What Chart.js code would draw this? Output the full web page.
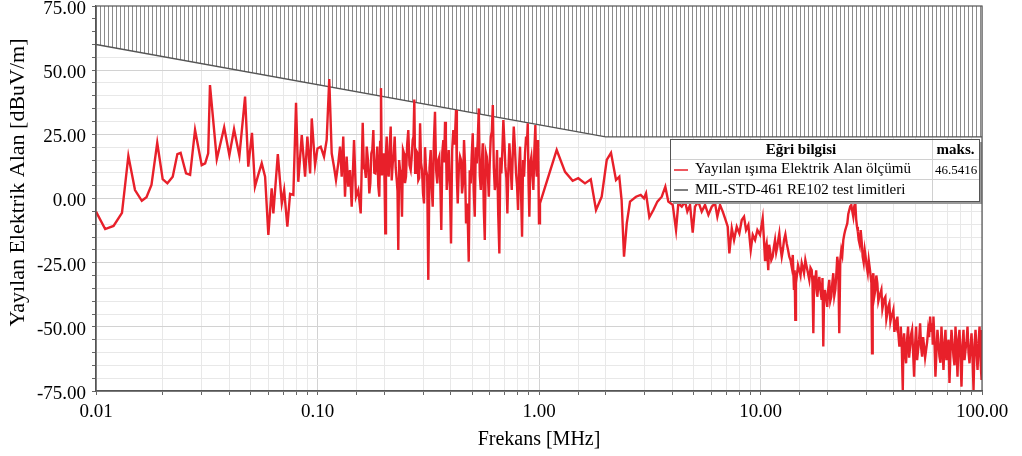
<!DOCTYPE html>
<html>
<head>
<meta charset="utf-8">
<script src="https://cdn.jsdelivr.net/npm/chart.js@4.4.1/dist/chart.umd.min.js"></script>
<style>
  html, body { margin: 0; padding: 0; background: #fff; }
  #wrap { width: 1022px; height: 456px; position: relative; }
</style>
</head>
<body>
<div id="wrap"><canvas id="emiChart"></canvas></div>
<script>
// measured radiated field, frequency in MHz, level in dBuV/m
var freqMHz = [
  0.0100, 0.0110, 0.0120, 0.0131, 0.0140, 0.0150, 0.0161, 0.0169, 0.0178, 0.0189,
  0.0200, 0.0210, 0.0222, 0.0233, 0.0241, 0.0255, 0.0266, 0.0280, 0.0300, 0.0311,
  0.0321, 0.0327, 0.0351, 0.0379, 0.0400, 0.0420, 0.0444, 0.0471, 0.0487, 0.0506,
  0.0522, 0.0540, 0.0560, 0.0580, 0.0600, 0.0621, 0.0632, 0.0662, 0.0690, 0.0707,
  0.0731, 0.0752, 0.0778, 0.0800, 0.0819, 0.0849, 0.0879, 0.0900, 0.0926, 0.0942,
  0.0975,
  0.100, 0.1034, 0.107, 0.110, 0.113, 0.1159, 0.1187, 0.1212, 0.1241, 0.1264,
  0.1286, 0.1307, 0.1331, 0.1354, 0.1377, 0.1402, 0.1427, 0.1462, 0.1492, 0.1528,
  0.1567, 0.160, 0.1639, 0.1668, 0.1714, 0.175, 0.1787, 0.1824, 0.1862, 0.1901,
  0.1935, 0.1969, 0.1996, 0.2023, 0.2053, 0.2096, 0.214, 0.2186, 0.2231, 0.2278,
  0.2316, 0.2358, 0.2407, 0.2458, 0.2509, 0.257, 0.2635, 0.269, 0.2736, 0.2784,
  0.2852, 0.2905, 0.2964, 0.3026, 0.309, 0.3164, 0.3244, 0.3312, 0.3392, 0.3474,
  0.3547, 0.3622, 0.3699, 0.3765, 0.3832, 0.3912, 0.4007, 0.4104, 0.4221, 0.4296,
  0.44, 0.4493, 0.4587, 0.4684, 0.4817, 0.4918, 0.5022, 0.5128, 0.5236, 0.5347,
  0.5459, 0.5575, 0.5692, 0.5812, 0.5935, 0.606, 0.6187, 0.6318, 0.6466, 0.6622,
  0.6762, 0.6904, 0.705, 0.7198, 0.735, 0.7533, 0.7692, 0.7877, 0.8043, 0.8212,
  0.8385, 0.8562, 0.8742, 0.8897, 0.9046, 0.9237, 0.9432, 0.9631, 0.9771, 0.990,
  1.00, 1.01, 1.102, 1.202, 1.311, 1.419, 1.504, 1.613, 1.713, 1.809,
  1.919, 2.022, 2.114, 2.227, 2.304, 2.360, 2.420, 2.490, 2.576, 2.741,
  2.879, 2.979, 3.042, 3.150, 3.283, 3.423, 3.582, 3.718, 3.835, 4.015,
  4.156, 4.256, 4.411, 4.563, 4.674, 4.807, 4.943, 5.063, 5.240, 5.428,
  5.618, 5.818, 6.024, 6.234, 6.385, 6.567, 6.754, 6.918, 7.114, 7.234,
  7.418, 7.596, 7.811, 8.026, 8.229, 8.428, 8.606, 8.814, 9.036, 9.226,
  9.451, 9.680, 9.95,
  10.23, 10.48, 10.66, 10.84, 11.04, 11.35, 11.63, 11.91, 12.16, 12.47,
  12.77, 13.13, 13.49, 13.83, 14.16, 14.36, 14.57, 14.97, 15.35, 15.72,
  16.16, 16.61, 17.03, 17.32, 17.63, 18.05, 18.43, 18.89, 19.21, 19.55,
  20.02, 20.44, 20.87, 21.31, 21.76, 22.21, 22.68, 23.16, 23.65, 24.14,
  24.65, 25.17, 25.70, 26.24, 26.79, 27.27, 27.76, 28.34, 28.94, 29.55,
  30.17, 30.81, 31.46, 31.88, 32.32, 33.00, 33.69, 34.40, 35.13, 35.87,
  36.62, 37.39, 38.18, 38.98, 39.80, 40.64, 41.50, 42.37, 42.99, 43.89,
  44.49, 45.42, 46.38, 47.36, 48.35, 49.37, 50.41, 51.47, 52.55, 53.66,
  54.79, 55.94, 57.12, 58.32, 59.55, 60.36, 61.63, 62.93, 64.25, 65.61,
  66.99, 68.40, 69.84, 71.31, 72.81, 74.34, 75.91, 77.51, 79.14, 80.81,
  82.51, 84.25, 86.02, 87.83, 89.68, 91.57, 93.50, 95.47, 97.48, 99.53,
  100
];

var fieldLevel = [
  -5.1, -11.9, -10.7, -5.6, 16.6, 3.3, -0.9, 0.5, 5.3, 21.7,
  7.5, 5.9, 8.5, 17.3, 17.8, 9.8, 9.2, 26.7, 13.0, 13.7,
  17.6, 44.2, 15.3, 27.7, 16.9, 27.0, 16.6, 39.7, 12.4, 25.6,
  4.6, 9.2, 13.7, 8.5, -14.2, 4.0, -5.8, 17.3, -1.9, 3.3,
  -11.0, 1.8, 1.4, 37.3, 6.5, 24.7, 8.5, 24.1, 9.8, 31.2,
  13.0,
  19.5, 20.2, 16.3, 22.8, 46.5416, 17.6, 12.4, 7.2, 13.7, 20.2,
  8.5, 24.1, 0.7, 16.3, 4.6, 11.1, -3.2, 22.8, 0.7, 3.3,
  -5.8, 29.5, 11.1, 20.2, 2.0, 17.6, 26.7, 9.8, 20.2, 0.7,
  43.0, 11.1, 17.6, -13.6, 24.1, 8.5, 28.0, 13.7, 24.1, 7.2,
  -20.1, 11.1, -7.1, 17.6, 8.5, 26.7, 11.1, 22.8, 38.6, 18.9,
  7.2, 29.3, 11.1, -1.9, 11.1, -31.7, 18.9, -3.2, 33.8, 5.9,
  16.3, -12.3, 22.8, 29.9, 3.3, 18.9, -17.5, 26.7, 34.5, -1.9,
  16.3, 2.0, 22.8, -9.7, -24.6, 5.9, 25.4, -7.1, 13.7, 35.1,
  3.3, 21.5, -16.2, 16.3, 0.7, 24.1, 36.4, 3.3, 18.9, -21.4,
  9.8, 30.6, 12.4, -5.8, 21.5, 3.3, 28.0, 9.8, -4.5, 20.2,
  -14.9, 8.5, 24.1, 29.3, -7.1, 16.3, 3.3, 28.6, 8.5, 22.8,
  -9.7, -1.9, 8.5, 18.9, 10.4, 6.9, 7.9, 5.9, 7.5, -4.5,
  0.7, 15.0, 17.8, 7.2, 8.5, -0.6, -22.7, -9.7, -1.2, 0.7,
  1.4, 0.1, 2.0, -7.3, -4.5, -1.2, 0.7, 4.6, -1.2, -2.5,
  -12.3, -1.9, -3.2, -1.2, -5.1, -2.5, -13.3, -3.2, -1.2, -5.1,
  -2.5, -6.4, -3.2, -1.9, -7.1, -2.5, -5.1, -7.7, -11.0, -21.4,
  -11.6, -16.2, -11.0, -13.6, -8.4, -7.1, -12.3, -10.3, -20.1, -14.2,
  -16.2, -12.3, -14.2,
  -7.7, -24.0, -17.5, -27.9, -20.1, -22.7, -16.2, -18.8, -13.6, -22.7,
  -16.2, -17.5, -22.7, -26.6, -35.6, -47.3, -30.5, -27.9, -25.2, -29.1,
  -26.6, -31.7, -27.9, -52.5, -33.0, -38.3, -30.5, -39.5, -57.7, -35.6,
  -42.2, -31.7, -38.3, -29.1, -35.6, -22.7, -52.5, -20.1, -16.2, -12.3,
  -9.7, -4.5, -2.5, -7.1, -1.6, -11.0, -16.2, -12.3, -22.7, -20.1,
  -26.6, -24.0, -30.5, -60.3, -29.1, -35.6, -33.0, -38.3, -35.6, -40.8,
  -38.3, -44.7, -40.8, -46.0, -43.4, -48.6, -46.0, -57.7, -49.9, -74.6,
  -52.5, -64.2, -49.9, -57.7, -51.2, -69.4, -49.9, -59.0, -48.6, -61.6,
  -57.7, -59.0, -51.2, -46.0, -48.6, -46.0, -69.4, -51.2, -61.6, -49.9,
  -66.8, -51.2, -59.0, -71.9, -51.2, -61.6, -49.9, -69.4, -51.2, -73.3,
  -51.2, -59.0, -49.9, -64.2, -52.5, -74.6, -51.2, -66.8, -49.9, -70.7,
  -51.2
];

// extra sweep samples inside the two busy bands (0.16-1 MHz, 10-100 MHz)
var bandFreq = [
  0.1619, 0.1653, 0.1690, 0.1732, 0.1768, 0.1805, 0.1843, 0.1881, 0.1918, 0.1952,
  0.1982, 0.2010, 0.2038, 0.2074, 0.2118, 0.2163, 0.2208, 0.2254, 0.2297, 0.2337,
  0.2382, 0.2432, 0.2483, 0.2540, 0.2602, 0.2662, 0.2713, 0.2760, 0.2818, 0.2878,
  0.2934, 0.2995, 0.3058, 0.3127, 0.3204, 0.3278, 0.3352, 0.3433, 0.3510, 0.3584,
  0.3660, 0.3732, 0.3798, 0.3872, 0.3960, 0.4055, 0.4162, 0.4258, 0.4348, 0.4446,
  0.4540, 0.4635, 0.4750, 0.4867, 0.4970, 0.5075, 0.5182, 0.5291, 0.5403, 0.5517,
  0.5633, 0.5752, 0.5873, 0.5997, 0.6123, 0.6252, 0.6392, 0.6544, 0.6692, 0.6833,
  0.6977, 0.7124, 0.7274, 0.7441, 0.7612, 0.7784, 0.7960, 0.8127, 0.8298, 0.8473,
  0.8652, 0.8819, 0.8971, 0.9141, 0.9334, 0.9531, 0.9700, 0.9835,
  10.35, 10.57, 10.75, 10.94, 11.19, 11.49, 11.77, 12.03, 12.31, 12.62,
  12.95, 13.31, 13.66, 13.99, 14.26, 14.46, 14.77, 15.16, 15.53, 15.94,
  16.38, 16.82, 17.17, 17.47, 17.84, 18.24, 18.66, 19.05, 19.38, 19.78,
  20.23, 20.65, 21.09, 21.53, 21.98, 22.44, 22.92, 23.40, 23.89, 24.39,
  24.91, 25.43, 25.97, 26.51, 27.03, 27.51, 28.05, 28.64, 29.24, 29.86,
  30.49, 31.13, 31.67, 32.10, 32.66, 33.34, 34.04, 34.76, 35.50, 36.24,
  37.00, 37.78, 38.58, 39.39, 40.22, 41.07, 41.93, 42.68, 43.44, 44.19,
  44.95, 45.90, 46.87, 47.85, 48.86, 49.89, 50.94, 52.01, 53.10, 54.22,
  55.36, 56.53, 57.72, 58.93, 59.95, 60.99, 62.28, 63.59, 64.93, 66.30,
  67.69, 69.12, 70.57, 72.06, 73.57, 75.12, 76.71, 78.32, 79.97, 81.66,
  83.37, 85.13, 86.92, 88.75, 90.62, 92.53, 94.48, 96.47, 98.50
];

var bandLevel = [
  12, 8, 15, 6, 19, 10, 14, 5, 22, 9,
  16, 4, 18, 11, 20, 7, 17, 12, 3, 15,
  9, 19, 6, 21, 13, 16, 24, 10, 18, 8,
  14, 2, 20, 9, 12, 4, 22, 11, 15, 6,
  18, 14, 24, 10, 5, 19, 21, 8, 12, 15,
  6, 13, -2, 11, 17, 3, 20, 23, 9, 14,
  -4, 18, 10, 15, 26, 12, 7, -6, 16, 19,
  22, 8, 11, 13, 17, 20, 5, 12, 2, 15,
  18, 21, 6, 14, 10, 19, 13, 16,
  -15, -19, -22, -18, -24, -19, -21, -16, -19, -20,
  -14, -20, -24, -22, -28, -33, -26, -30, -27, -24,
  -29, -27, -33, -30, -28, -34, -36, -31, -37, -39,
  -35, -40, -33, -38, -30, -26, -24, -22, -14, -11,
  -6, -3, -5, -3, -8, -13, -18, -17, -25, -23,
  -29, -27, -33, -31, -38, -30, -40, -37, -43, -39,
  -47, -42, -48, -45, -52, -50, -53, -55, -58, -56,
  -60, -55, -62, -53, -60, -57, -63, -55, -58, -54,
  -62, -56, -54, -52, -57, -55, -60, -56, -64, -58,
  -57, -63, -55, -60, -56, -65, -58, -55, -62, -57,
  -63, -56, -60, -58, -62, -57, -60, -56, -63
];

// RE102 limit corners
var limitFreq = [0.01, 2, 100];
var limitLevel = [60, 24, 24];

var seriesNames = ['Yayılan ışıma Elektrik Alan ölçümü', 'MIL-STD-461 RE102 test limitleri'];
var xTitle = 'Frekans [MHz]';
var yTitle = 'Yayılan Elektrik Alan [dBuV/m]';
var yMin = -75, yMax = 75, yMajor = 25, yMinor = 5;

var serif = '"Liberation Serif", "Times New Roman", serif';
var red = '#e8202a';

function toPoints(xs, ys) {
  var pts = [];
  for (var i = 0; i < xs.length; i++) pts.push({ x: xs[i], y: ys[i] });
  return pts;
}

function isDecade(v) {
  var l = Math.log10(v);
  return Math.abs(l - Math.round(l)) < 1e-6;
}

var sweep = toPoints(freqMHz, fieldLevel).concat(toPoints(bandFreq, bandLevel));
sweep.sort(function(a, b) { return a.x - b.x; });
var sweepMax = Math.max.apply(null, fieldLevel.concat(bandLevel));

// vertical hatch for the area above the limit
var tile = document.createElement('canvas');
tile.width = 4; tile.height = 4;
var tctx = tile.getContext('2d');
tctx.fillStyle = '#fff';
tctx.fillRect(0, 0, 4, 4);
tctx.fillStyle = '#8c8c8c';
tctx.fillRect(0, 0, 1, 4);
var hatch = tctx.createPattern(tile, 'repeat');

// frame round the plot area, plus the rotated y title (sits a bit above centre)
var frame = {
  id: 'frame',
  afterDraw: function(chart) {
    var a = chart.chartArea, ctx = chart.ctx;
    ctx.save();
    ctx.strokeStyle = '#555';
    ctx.lineWidth = 1.2;
    ctx.strokeRect(a.left, a.top, a.right - a.left, a.bottom - a.top);

    ctx.translate(18, (a.top + a.bottom) / 2 - 16);
    ctx.rotate(-Math.PI / 2);
    ctx.fillStyle = '#000';
    ctx.font = '22px ' + serif;
    ctx.textAlign = 'center';
    ctx.textBaseline = 'middle';
    ctx.fillText(yTitle, 0, 0);
    ctx.restore();
  }
};

// "Eğri bilgisi" table in the upper right
var curveInfo = {
  id: 'curveInfo',
  afterDatasetsDraw: function(chart) {
    var a = chart.chartArea, ctx = chart.ctx;
    var w = 309, h = 62;
    var x = a.right - w - 3, y = a.top + 133;
    var col = x + 262;

    ctx.save();
    ctx.fillStyle = '#9a9a9a';
    ctx.fillRect(x + 3, y + 3, w, h);
    ctx.fillStyle = '#fff';
    ctx.fillRect(x, y, w, h);

    ctx.strokeStyle = '#d0d0d0';
    ctx.lineWidth = 1;
    ctx.beginPath();
    ctx.moveTo(x, y + 20.5); ctx.lineTo(x + w, y + 20.5);
    ctx.moveTo(x, y + 40.5); ctx.lineTo(x + w, y + 40.5);
    ctx.moveTo(col + 0.5, y); ctx.lineTo(col + 0.5, y + h);
    ctx.stroke();
    ctx.strokeStyle = '#555';
    ctx.strokeRect(x + 0.5, y + 0.5, w, h);

    ctx.fillStyle = '#000';
    ctx.textBaseline = 'middle';
    ctx.textAlign = 'center';
    ctx.font = 'bold 15px ' + serif;
    ctx.fillText('Eğri bilgisi', (x + col) / 2, y + 11);
    ctx.fillText('maks.', (col + x + w) / 2, y + 11);

    ctx.textAlign = 'left';
    ctx.font = '15px ' + serif;
    ctx.lineWidth = 1.5;
    ctx.strokeStyle = red;
    ctx.beginPath(); ctx.moveTo(x + 4, y + 31); ctx.lineTo(x + 18, y + 31); ctx.stroke();
    ctx.fillText(seriesNames[0], x + 25, y + 30);
    ctx.strokeStyle = '#555';
    ctx.beginPath(); ctx.moveTo(x + 4, y + 51); ctx.lineTo(x + 18, y + 51); ctx.stroke();
    ctx.fillText(seriesNames[1], x + 25, y + 51);

    ctx.font = '13px ' + serif;
    ctx.fillText(sweepMax.toFixed(4), col + 3, y + 32);
    ctx.restore();
  }
};

var ctx = document.getElementById('emiChart');

var chart = new Chart(ctx, {
  type: 'line',
  data: {
    datasets: [
      {
        label: seriesNames[0],
        data: sweep,
        borderColor: red,
        borderWidth: 2.4,
        pointRadius: 0,
        tension: 0,
        fill: false
      },
      {
        label: seriesNames[1],
        data: toPoints(limitFreq, limitLevel),
        borderColor: '#555',
        borderWidth: 1.4,
        pointRadius: 0,
        tension: 0,
        fill: 'end',
        backgroundColor: hatch
      }
    ]
  },
  options: {
    responsive: true,
    maintainAspectRatio: false,
    animation: false,
    layout: { padding: { top: 6, right: 40, left: 0, bottom: 0 } },
    plugins: {
      legend: { display: false },
      tooltip: { enabled: false }
    },
    scales: {
      x: {
        type: 'logarithmic',
        min: 0.01,
        max: 100,
        afterFit: function(s) { s.height = 65; },
        border: { color: '#555', width: 1.2 },
        grid: {
          color: function(c) { return c.tick && isDecade(c.tick.value) ? '#d2d2d2' : '#e8e8e8'; },
          tickColor: '#666',
          tickLength: 4
        },
        ticks: {
          autoSkip: false,
          maxRotation: 0,
          padding: 6,
          color: '#000',
          font: { family: serif, size: 19 },
          callback: function(v) { return isDecade(v) ? v.toFixed(2) : ''; }
        },
        title: {
          display: true,
          text: xTitle,
          color: '#000',
          font: { family: serif, size: 20 },
          padding: { top: 0, bottom: 4 }
        }
      },
      y: {
        min: yMin,
        max: yMax,
        afterFit: function(s) { s.width = 96; s.paddingTop = 0; s.paddingBottom = 0; },
        border: { color: '#555', width: 1.2 },
        grid: {
          color: function(c) { return c.tick && c.tick.value % yMajor === 0 ? '#d2d2d2' : '#e8e8e8'; },
          tickColor: '#666',
          tickLength: 4
        },
        ticks: {
          stepSize: yMinor,
          autoSkip: false,
          padding: 6,
          labelOffset: 3,
          color: '#000',
          font: { family: serif, size: 19 },
          callback: function(v) { return v % yMajor === 0 ? v.toFixed(2) : ''; }
        }
      }
    }
  },
  plugins: [frame, curveInfo]
});
</script>
</body>
</html>
